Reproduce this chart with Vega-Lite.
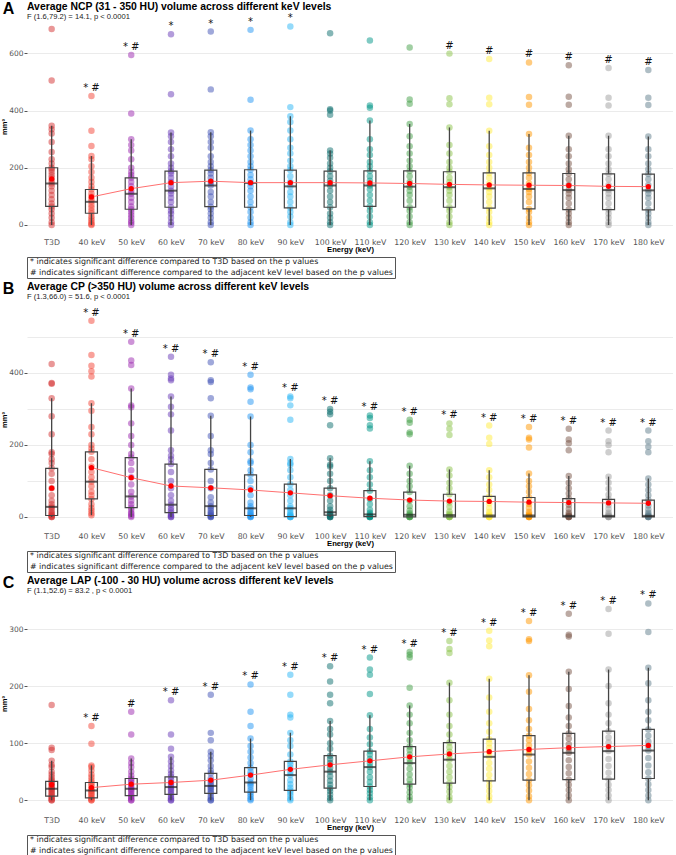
{
"$schema":"https://vega.github.io/schema/vega-lite/v6.json",
"padding":{"left":0,"top":1,"right":0,"bottom":0},
"spacing":2,
"datasets":{
"pA":[
{"c":"T3D","v":0},{"c":"T3D","v":10},{"c":"T3D","v":25},{"c":"T3D","v":40},{"c":"T3D","v":55},{"c":"T3D","v":65},{"c":"T3D","v":75},{"c":"T3D","v":90},{"c":"T3D","v":105},{"c":"T3D","v":120},{"c":"T3D","v":135},{"c":"T3D","v":145},{"c":"T3D","v":155},{"c":"T3D","v":165},{"c":"T3D","v":175},{"c":"T3D","v":185},{"c":"T3D","v":195},{"c":"T3D","v":200},{"c":"T3D","v":215},{"c":"T3D","v":230},{"c":"T3D","v":255},{"c":"T3D","v":290},{"c":"T3D","v":320},{"c":"T3D","v":335},{"c":"T3D","v":347},{"c":"T3D","v":505},{"c":"T3D","v":685},
{"c":"40","v":0},{"c":"40","v":3},{"c":"40","v":8},{"c":"40","v":15},{"c":"40","v":22},{"c":"40","v":30},{"c":"40","v":41},{"c":"40","v":50},{"c":"40","v":60},{"c":"40","v":70},{"c":"40","v":81},{"c":"40","v":90},{"c":"40","v":100},{"c":"40","v":110},{"c":"40","v":124},{"c":"40","v":135},{"c":"40","v":150},{"c":"40","v":165},{"c":"40","v":185},{"c":"40","v":205},{"c":"40","v":230},{"c":"40","v":241},{"c":"40","v":276},{"c":"40","v":329},{"c":"40","v":451},
{"c":"50","v":0},{"c":"50","v":8},{"c":"50","v":15},{"c":"50","v":25},{"c":"50","v":35},{"c":"50","v":45},{"c":"50","v":55},{"c":"50","v":65},{"c":"50","v":80},{"c":"50","v":95},{"c":"50","v":109},{"c":"50","v":120},{"c":"50","v":135},{"c":"50","v":150},{"c":"50","v":165},{"c":"50","v":175},{"c":"50","v":185},{"c":"50","v":200},{"c":"50","v":230},{"c":"50","v":260},{"c":"50","v":280},{"c":"50","v":300},{"c":"50","v":390},{"c":"50","v":594},
{"c":"60","v":0},{"c":"60","v":10},{"c":"60","v":25},{"c":"60","v":40},{"c":"60","v":50},{"c":"60","v":62},{"c":"60","v":80},{"c":"60","v":95},{"c":"60","v":110},{"c":"60","v":120},{"c":"60","v":135},{"c":"60","v":150},{"c":"60","v":165},{"c":"60","v":180},{"c":"60","v":188},{"c":"60","v":200},{"c":"60","v":215},{"c":"60","v":240},{"c":"60","v":265},{"c":"60","v":290},{"c":"60","v":310},{"c":"60","v":323},{"c":"60","v":457},{"c":"60","v":667},
{"c":"70","v":0},{"c":"70","v":10},{"c":"70","v":25},{"c":"70","v":40},{"c":"70","v":55},{"c":"70","v":64},{"c":"70","v":80},{"c":"70","v":100},{"c":"70","v":115},{"c":"70","v":138},{"c":"70","v":150},{"c":"70","v":165},{"c":"70","v":180},{"c":"70","v":192},{"c":"70","v":205},{"c":"70","v":220},{"c":"70","v":240},{"c":"70","v":270},{"c":"70","v":290},{"c":"70","v":310},{"c":"70","v":324},{"c":"70","v":474},{"c":"70","v":676},
{"c":"80","v":0},{"c":"80","v":10},{"c":"80","v":25},{"c":"80","v":45},{"c":"80","v":62},{"c":"80","v":80},{"c":"80","v":100},{"c":"80","v":120},{"c":"80","v":135},{"c":"80","v":147},{"c":"80","v":160},{"c":"80","v":175},{"c":"80","v":193},{"c":"80","v":205},{"c":"80","v":220},{"c":"80","v":240},{"c":"80","v":260},{"c":"80","v":280},{"c":"80","v":300},{"c":"80","v":330},{"c":"80","v":438},{"c":"80","v":682},
{"c":"90","v":0},{"c":"90","v":10},{"c":"90","v":30},{"c":"90","v":45},{"c":"90","v":60},{"c":"90","v":80},{"c":"90","v":100},{"c":"90","v":115},{"c":"90","v":135},{"c":"90","v":150},{"c":"90","v":170},{"c":"90","v":192},{"c":"90","v":205},{"c":"90","v":225},{"c":"90","v":250},{"c":"90","v":270},{"c":"90","v":300},{"c":"90","v":330},{"c":"90","v":360},{"c":"90","v":380},{"c":"90","v":412},{"c":"90","v":694},
{"c":"100","v":0},{"c":"100","v":10},{"c":"100","v":25},{"c":"100","v":40},{"c":"100","v":62},{"c":"100","v":80},{"c":"100","v":100},{"c":"100","v":120},{"c":"100","v":138},{"c":"100","v":155},{"c":"100","v":170},{"c":"100","v":188},{"c":"100","v":200},{"c":"100","v":215},{"c":"100","v":235},{"c":"100","v":250},{"c":"100","v":260},{"c":"100","v":385},{"c":"100","v":400},{"c":"100","v":405},{"c":"100","v":670},
{"c":"110","v":0},{"c":"110","v":10},{"c":"110","v":30},{"c":"110","v":50},{"c":"110","v":65},{"c":"110","v":85},{"c":"110","v":105},{"c":"110","v":125},{"c":"110","v":138},{"c":"110","v":155},{"c":"110","v":170},{"c":"110","v":189},{"c":"110","v":205},{"c":"110","v":220},{"c":"110","v":245},{"c":"110","v":265},{"c":"110","v":300},{"c":"110","v":365},{"c":"110","v":410},{"c":"110","v":418},{"c":"110","v":645},
{"c":"120","v":0},{"c":"120","v":10},{"c":"120","v":30},{"c":"120","v":50},{"c":"120","v":62},{"c":"120","v":85},{"c":"120","v":105},{"c":"120","v":120},{"c":"120","v":134},{"c":"120","v":150},{"c":"120","v":170},{"c":"120","v":189},{"c":"120","v":205},{"c":"120","v":225},{"c":"120","v":250},{"c":"120","v":275},{"c":"120","v":310},{"c":"120","v":353},{"c":"120","v":424},{"c":"120","v":439},{"c":"120","v":620},
{"c":"130","v":0},{"c":"130","v":10},{"c":"130","v":30},{"c":"130","v":50},{"c":"130","v":62},{"c":"130","v":85},{"c":"130","v":105},{"c":"130","v":120},{"c":"130","v":132},{"c":"130","v":150},{"c":"130","v":165},{"c":"130","v":186},{"c":"130","v":200},{"c":"130","v":220},{"c":"130","v":250},{"c":"130","v":280},{"c":"130","v":341},{"c":"130","v":422},{"c":"130","v":443},{"c":"130","v":599},
{"c":"140","v":0},{"c":"140","v":10},{"c":"140","v":25},{"c":"140","v":45},{"c":"140","v":59},{"c":"140","v":80},{"c":"140","v":100},{"c":"140","v":115},{"c":"140","v":128},{"c":"140","v":145},{"c":"140","v":165},{"c":"140","v":182},{"c":"140","v":200},{"c":"140","v":220},{"c":"140","v":245},{"c":"140","v":275},{"c":"140","v":329},{"c":"140","v":422},{"c":"140","v":445},{"c":"140","v":580},
{"c":"150","v":0},{"c":"150","v":10},{"c":"150","v":25},{"c":"150","v":45},{"c":"150","v":56},{"c":"150","v":80},{"c":"150","v":100},{"c":"150","v":115},{"c":"150","v":126},{"c":"150","v":145},{"c":"150","v":165},{"c":"150","v":182},{"c":"150","v":200},{"c":"150","v":220},{"c":"150","v":245},{"c":"150","v":270},{"c":"150","v":318},{"c":"150","v":420},{"c":"150","v":447},{"c":"150","v":568},
{"c":"160","v":0},{"c":"160","v":10},{"c":"160","v":25},{"c":"160","v":40},{"c":"160","v":54},{"c":"160","v":75},{"c":"160","v":95},{"c":"160","v":110},{"c":"160","v":122},{"c":"160","v":140},{"c":"160","v":160},{"c":"160","v":180},{"c":"160","v":195},{"c":"160","v":215},{"c":"160","v":240},{"c":"160","v":265},{"c":"160","v":312},{"c":"160","v":420},{"c":"160","v":448},{"c":"160","v":558},
{"c":"170","v":0},{"c":"170","v":10},{"c":"170","v":25},{"c":"170","v":40},{"c":"170","v":54},{"c":"170","v":75},{"c":"170","v":95},{"c":"170","v":110},{"c":"170","v":122},{"c":"170","v":140},{"c":"170","v":160},{"c":"170","v":179},{"c":"170","v":195},{"c":"170","v":215},{"c":"170","v":240},{"c":"170","v":265},{"c":"170","v":312},{"c":"170","v":418},{"c":"170","v":445},{"c":"170","v":549},
{"c":"180","v":0},{"c":"180","v":10},{"c":"180","v":25},{"c":"180","v":40},{"c":"180","v":53},{"c":"180","v":75},{"c":"180","v":95},{"c":"180","v":110},{"c":"180","v":121},{"c":"180","v":140},{"c":"180","v":160},{"c":"180","v":178},{"c":"180","v":195},{"c":"180","v":215},{"c":"180","v":240},{"c":"180","v":265},{"c":"180","v":309},{"c":"180","v":419},{"c":"180","v":445},{"c":"180","v":542}
],
"pB":[
{"c":"T3D","v":0},{"c":"T3D","v":0},{"c":"T3D","v":2},{"c":"T3D","v":5},{"c":"T3D","v":8},{"c":"T3D","v":12},{"c":"T3D","v":18},{"c":"T3D","v":25},{"c":"T3D","v":28},{"c":"T3D","v":35},{"c":"T3D","v":45},{"c":"T3D","v":60},{"c":"T3D","v":80},{"c":"T3D","v":100},{"c":"T3D","v":120},{"c":"T3D","v":135},{"c":"T3D","v":150},{"c":"T3D","v":160},{"c":"T3D","v":175},{"c":"T3D","v":180},{"c":"T3D","v":230},{"c":"T3D","v":280},{"c":"T3D","v":330},{"c":"T3D","v":370},{"c":"T3D","v":372},{"c":"T3D","v":425},
{"c":"40","v":5},{"c":"40","v":10},{"c":"40","v":18},{"c":"40","v":25},{"c":"40","v":35},{"c":"40","v":50},{"c":"40","v":60},{"c":"40","v":70},{"c":"40","v":85},{"c":"40","v":98},{"c":"40","v":110},{"c":"40","v":125},{"c":"40","v":140},{"c":"40","v":160},{"c":"40","v":181},{"c":"40","v":190},{"c":"40","v":200},{"c":"40","v":230},{"c":"40","v":250},{"c":"40","v":295},{"c":"40","v":316},{"c":"40","v":390},{"c":"40","v":405},{"c":"40","v":420},{"c":"40","v":450},{"c":"40","v":545},
{"c":"50","v":0},{"c":"50","v":3},{"c":"50","v":8},{"c":"50","v":12},{"c":"50","v":20},{"c":"50","v":26},{"c":"50","v":35},{"c":"50","v":45},{"c":"50","v":57},{"c":"50","v":70},{"c":"50","v":90},{"c":"50","v":110},{"c":"50","v":130},{"c":"50","v":150},{"c":"50","v":165},{"c":"50","v":175},{"c":"50","v":200},{"c":"50","v":225},{"c":"50","v":260},{"c":"50","v":305},{"c":"50","v":310},{"c":"50","v":357},{"c":"50","v":422},{"c":"50","v":435},{"c":"50","v":487},
{"c":"60","v":0},{"c":"60","v":0},{"c":"60","v":3},{"c":"60","v":6},{"c":"60","v":12},{"c":"60","v":18},{"c":"60","v":25},{"c":"60","v":34},{"c":"60","v":45},{"c":"60","v":60},{"c":"60","v":80},{"c":"60","v":100},{"c":"60","v":125},{"c":"60","v":147},{"c":"60","v":160},{"c":"60","v":170},{"c":"60","v":185},{"c":"60","v":240},{"c":"60","v":285},{"c":"60","v":306},{"c":"60","v":335},{"c":"60","v":380},{"c":"60","v":385},{"c":"60","v":395},{"c":"60","v":445},
{"c":"70","v":0},{"c":"70","v":0},{"c":"70","v":2},{"c":"70","v":4},{"c":"70","v":8},{"c":"70","v":12},{"c":"70","v":18},{"c":"70","v":25},{"c":"70","v":30},{"c":"70","v":40},{"c":"70","v":55},{"c":"70","v":80},{"c":"70","v":100},{"c":"70","v":132},{"c":"70","v":150},{"c":"70","v":175},{"c":"70","v":185},{"c":"70","v":225},{"c":"70","v":281},{"c":"70","v":330},{"c":"70","v":375},{"c":"70","v":380},{"c":"70","v":430},
{"c":"80","v":0},{"c":"80","v":0},{"c":"80","v":2},{"c":"80","v":4},{"c":"80","v":8},{"c":"80","v":12},{"c":"80","v":18},{"c":"80","v":24},{"c":"80","v":30},{"c":"80","v":40},{"c":"80","v":60},{"c":"80","v":80},{"c":"80","v":100},{"c":"80","v":117},{"c":"80","v":130},{"c":"80","v":150},{"c":"80","v":155},{"c":"80","v":180},{"c":"80","v":200},{"c":"80","v":279},{"c":"80","v":320},{"c":"80","v":355},{"c":"80","v":360},{"c":"80","v":395},
{"c":"90","v":0},{"c":"90","v":0},{"c":"90","v":0},{"c":"90","v":1},{"c":"90","v":3},{"c":"90","v":6},{"c":"90","v":10},{"c":"90","v":18},{"c":"90","v":24},{"c":"90","v":30},{"c":"90","v":45},{"c":"90","v":60},{"c":"90","v":75},{"c":"90","v":91},{"c":"90","v":110},{"c":"90","v":130},{"c":"90","v":145},{"c":"90","v":150},{"c":"90","v":161},{"c":"90","v":270},{"c":"90","v":310},{"c":"90","v":330},{"c":"90","v":335},
{"c":"100","v":0},{"c":"100","v":0},{"c":"100","v":0},{"c":"100","v":2},{"c":"100","v":5},{"c":"100","v":8},{"c":"100","v":13},{"c":"100","v":20},{"c":"100","v":30},{"c":"100","v":45},{"c":"100","v":60},{"c":"100","v":80},{"c":"100","v":100},{"c":"100","v":120},{"c":"100","v":140},{"c":"100","v":145},{"c":"100","v":163},{"c":"100","v":255},{"c":"100","v":285},{"c":"100","v":292},{"c":"100","v":300},
{"c":"110","v":0},{"c":"110","v":0},{"c":"110","v":0},{"c":"110","v":1},{"c":"110","v":3},{"c":"110","v":7},{"c":"110","v":12},{"c":"110","v":20},{"c":"110","v":35},{"c":"110","v":50},{"c":"110","v":73},{"c":"110","v":90},{"c":"110","v":110},{"c":"110","v":130},{"c":"110","v":155},{"c":"110","v":246},{"c":"110","v":255},{"c":"110","v":275},{"c":"110","v":282},
{"c":"120","v":0},{"c":"120","v":0},{"c":"120","v":0},{"c":"120","v":1},{"c":"120","v":3},{"c":"120","v":6},{"c":"120","v":10},{"c":"120","v":18},{"c":"120","v":30},{"c":"120","v":45},{"c":"120","v":69},{"c":"120","v":85},{"c":"120","v":100},{"c":"120","v":120},{"c":"120","v":142},{"c":"120","v":230},{"c":"120","v":235},{"c":"120","v":262},{"c":"120","v":270},
{"c":"130","v":0},{"c":"130","v":0},{"c":"130","v":0},{"c":"130","v":1},{"c":"130","v":3},{"c":"130","v":5},{"c":"130","v":9},{"c":"130","v":15},{"c":"130","v":28},{"c":"130","v":40},{"c":"130","v":63},{"c":"130","v":80},{"c":"130","v":95},{"c":"130","v":115},{"c":"130","v":132},{"c":"130","v":228},{"c":"130","v":245},{"c":"130","v":260},
{"c":"140","v":0},{"c":"140","v":0},{"c":"140","v":0},{"c":"140","v":1},{"c":"140","v":2},{"c":"140","v":4},{"c":"140","v":8},{"c":"140","v":14},{"c":"140","v":25},{"c":"140","v":38},{"c":"140","v":57},{"c":"140","v":75},{"c":"140","v":90},{"c":"140","v":110},{"c":"140","v":130},{"c":"140","v":203},{"c":"140","v":220},{"c":"140","v":254},
{"c":"150","v":0},{"c":"150","v":0},{"c":"150","v":0},{"c":"150","v":1},{"c":"150","v":2},{"c":"150","v":4},{"c":"150","v":8},{"c":"150","v":14},{"c":"150","v":25},{"c":"150","v":36},{"c":"150","v":54},{"c":"150","v":70},{"c":"150","v":85},{"c":"150","v":100},{"c":"150","v":121},{"c":"150","v":193},{"c":"150","v":215},{"c":"150","v":220},{"c":"150","v":250},
{"c":"160","v":0},{"c":"160","v":0},{"c":"160","v":0},{"c":"160","v":1},{"c":"160","v":2},{"c":"160","v":3},{"c":"160","v":7},{"c":"160","v":12},{"c":"160","v":22},{"c":"160","v":34},{"c":"160","v":51},{"c":"160","v":65},{"c":"160","v":80},{"c":"160","v":95},{"c":"160","v":114},{"c":"160","v":185},{"c":"160","v":205},{"c":"160","v":215},{"c":"160","v":245},
{"c":"170","v":0},{"c":"170","v":0},{"c":"170","v":0},{"c":"170","v":1},{"c":"170","v":2},{"c":"170","v":3},{"c":"170","v":7},{"c":"170","v":12},{"c":"170","v":22},{"c":"170","v":33},{"c":"170","v":49},{"c":"170","v":62},{"c":"170","v":78},{"c":"170","v":95},{"c":"170","v":112},{"c":"170","v":180},{"c":"170","v":200},{"c":"170","v":210},{"c":"170","v":240},
{"c":"180","v":0},{"c":"180","v":0},{"c":"180","v":0},{"c":"180","v":1},{"c":"180","v":2},{"c":"180","v":3},{"c":"180","v":7},{"c":"180","v":12},{"c":"180","v":21},{"c":"180","v":32},{"c":"180","v":47},{"c":"180","v":60},{"c":"180","v":75},{"c":"180","v":90},{"c":"180","v":107},{"c":"180","v":180},{"c":"180","v":195},{"c":"180","v":210},{"c":"180","v":240}
],
"pC":[
{"c":"T3D","v":0},{"c":"T3D","v":0},{"c":"T3D","v":2},{"c":"T3D","v":5},{"c":"T3D","v":7},{"c":"T3D","v":10},{"c":"T3D","v":12},{"c":"T3D","v":15},{"c":"T3D","v":18},{"c":"T3D","v":20},{"c":"T3D","v":22},{"c":"T3D","v":25},{"c":"T3D","v":28},{"c":"T3D","v":30},{"c":"T3D","v":33},{"c":"T3D","v":36},{"c":"T3D","v":40},{"c":"T3D","v":45},{"c":"T3D","v":50},{"c":"T3D","v":58},{"c":"T3D","v":62},{"c":"T3D","v":69},{"c":"T3D","v":88},{"c":"T3D","v":92},{"c":"T3D","v":167},
{"c":"40","v":0},{"c":"40","v":0},{"c":"40","v":2},{"c":"40","v":4},{"c":"40","v":7},{"c":"40","v":10},{"c":"40","v":12},{"c":"40","v":15},{"c":"40","v":17},{"c":"40","v":20},{"c":"40","v":24},{"c":"40","v":28},{"c":"40","v":31},{"c":"40","v":35},{"c":"40","v":40},{"c":"40","v":45},{"c":"40","v":52},{"c":"40","v":58},{"c":"40","v":61},{"c":"40","v":99},{"c":"40","v":130},
{"c":"50","v":0},{"c":"50","v":0},{"c":"50","v":3},{"c":"50","v":6},{"c":"50","v":8},{"c":"50","v":11},{"c":"50","v":15},{"c":"50","v":18},{"c":"50","v":20},{"c":"50","v":23},{"c":"50","v":27},{"c":"50","v":31},{"c":"50","v":35},{"c":"50","v":38},{"c":"50","v":43},{"c":"50","v":50},{"c":"50","v":58},{"c":"50","v":65},{"c":"50","v":73},{"c":"50","v":115},{"c":"50","v":155},
{"c":"60","v":0},{"c":"60","v":0},{"c":"60","v":3},{"c":"60","v":6},{"c":"60","v":10},{"c":"60","v":13},{"c":"60","v":17},{"c":"60","v":20},{"c":"60","v":23},{"c":"60","v":27},{"c":"60","v":31},{"c":"60","v":36},{"c":"60","v":41},{"c":"60","v":46},{"c":"60","v":52},{"c":"60","v":60},{"c":"60","v":68},{"c":"60","v":76},{"c":"60","v":90},{"c":"60","v":115},{"c":"60","v":175},
{"c":"70","v":0},{"c":"70","v":0},{"c":"70","v":3},{"c":"70","v":7},{"c":"70","v":12},{"c":"70","v":15},{"c":"70","v":19},{"c":"70","v":22},{"c":"70","v":25},{"c":"70","v":29},{"c":"70","v":33},{"c":"70","v":38},{"c":"70","v":47},{"c":"70","v":52},{"c":"70","v":60},{"c":"70","v":70},{"c":"70","v":78},{"c":"70","v":85},{"c":"70","v":105},{"c":"70","v":118},{"c":"70","v":185},
{"c":"80","v":0},{"c":"80","v":2},{"c":"80","v":6},{"c":"80","v":10},{"c":"80","v":14},{"c":"80","v":18},{"c":"80","v":24},{"c":"80","v":28},{"c":"80","v":31},{"c":"80","v":38},{"c":"80","v":45},{"c":"80","v":50},{"c":"80","v":57},{"c":"80","v":65},{"c":"80","v":75},{"c":"80","v":85},{"c":"80","v":95},{"c":"80","v":108},{"c":"80","v":130},{"c":"80","v":155},{"c":"80","v":203},
{"c":"90","v":0},{"c":"90","v":3},{"c":"90","v":8},{"c":"90","v":13},{"c":"90","v":17},{"c":"90","v":22},{"c":"90","v":28},{"c":"90","v":35},{"c":"90","v":44},{"c":"90","v":50},{"c":"90","v":57},{"c":"90","v":63},{"c":"90","v":68},{"c":"90","v":80},{"c":"90","v":95},{"c":"90","v":105},{"c":"90","v":118},{"c":"90","v":145},{"c":"90","v":150},{"c":"90","v":185},{"c":"90","v":220},
{"c":"100","v":0},{"c":"100","v":4},{"c":"100","v":10},{"c":"100","v":16},{"c":"100","v":21},{"c":"100","v":27},{"c":"100","v":34},{"c":"100","v":42},{"c":"100","v":50},{"c":"100","v":57},{"c":"100","v":65},{"c":"100","v":72},{"c":"100","v":78},{"c":"100","v":90},{"c":"100","v":100},{"c":"100","v":115},{"c":"100","v":125},{"c":"100","v":139},{"c":"100","v":170},{"c":"100","v":185},{"c":"100","v":208},{"c":"100","v":235},
{"c":"110","v":0},{"c":"110","v":5},{"c":"110","v":12},{"c":"110","v":18},{"c":"110","v":24},{"c":"110","v":32},{"c":"110","v":40},{"c":"110","v":50},{"c":"110","v":58},{"c":"110","v":65},{"c":"110","v":72},{"c":"110","v":80},{"c":"110","v":86},{"c":"110","v":98},{"c":"110","v":110},{"c":"110","v":125},{"c":"110","v":149},{"c":"110","v":186},{"c":"110","v":220},{"c":"110","v":229},{"c":"110","v":250},
{"c":"120","v":0},{"c":"120","v":6},{"c":"120","v":14},{"c":"120","v":22},{"c":"120","v":28},{"c":"120","v":36},{"c":"120","v":45},{"c":"120","v":55},{"c":"120","v":65},{"c":"120","v":72},{"c":"120","v":80},{"c":"120","v":88},{"c":"120","v":94},{"c":"120","v":105},{"c":"120","v":118},{"c":"120","v":135},{"c":"120","v":150},{"c":"120","v":166},{"c":"120","v":197},{"c":"120","v":250},{"c":"120","v":255},{"c":"120","v":260},
{"c":"130","v":0},{"c":"130","v":6},{"c":"130","v":15},{"c":"130","v":23},{"c":"130","v":30},{"c":"130","v":40},{"c":"130","v":50},{"c":"130","v":60},{"c":"130","v":71},{"c":"130","v":78},{"c":"130","v":85},{"c":"130","v":93},{"c":"130","v":101},{"c":"130","v":115},{"c":"130","v":130},{"c":"130","v":150},{"c":"130","v":175},{"c":"130","v":206},{"c":"130","v":258},{"c":"130","v":265},{"c":"130","v":279},
{"c":"140","v":0},{"c":"140","v":7},{"c":"140","v":16},{"c":"140","v":25},{"c":"140","v":34},{"c":"140","v":44},{"c":"140","v":55},{"c":"140","v":65},{"c":"140","v":76},{"c":"140","v":84},{"c":"140","v":92},{"c":"140","v":100},{"c":"140","v":107},{"c":"140","v":120},{"c":"140","v":135},{"c":"140","v":155},{"c":"140","v":180},{"c":"140","v":213},{"c":"140","v":270},{"c":"140","v":280},{"c":"140","v":297},
{"c":"150","v":0},{"c":"150","v":7},{"c":"150","v":17},{"c":"150","v":26},{"c":"150","v":35},{"c":"150","v":46},{"c":"150","v":57},{"c":"150","v":68},{"c":"150","v":80},{"c":"150","v":88},{"c":"150","v":96},{"c":"150","v":105},{"c":"150","v":113},{"c":"150","v":125},{"c":"150","v":140},{"c":"150","v":160},{"c":"150","v":190},{"c":"150","v":219},{"c":"150","v":279},{"c":"150","v":282},{"c":"150","v":314},
{"c":"160","v":0},{"c":"160","v":8},{"c":"160","v":18},{"c":"160","v":27},{"c":"160","v":36},{"c":"160","v":47},{"c":"160","v":58},{"c":"160","v":70},{"c":"160","v":83},{"c":"160","v":90},{"c":"160","v":98},{"c":"160","v":108},{"c":"160","v":117},{"c":"160","v":130},{"c":"160","v":145},{"c":"160","v":165},{"c":"160","v":195},{"c":"160","v":225},{"c":"160","v":287},{"c":"160","v":290},{"c":"160","v":327},
{"c":"170","v":0},{"c":"170","v":8},{"c":"170","v":18},{"c":"170","v":27},{"c":"170","v":37},{"c":"170","v":48},{"c":"170","v":60},{"c":"170","v":72},{"c":"170","v":86},{"c":"170","v":93},{"c":"170","v":101},{"c":"170","v":110},{"c":"170","v":121},{"c":"170","v":135},{"c":"170","v":150},{"c":"170","v":170},{"c":"170","v":200},{"c":"170","v":229},{"c":"170","v":292},{"c":"170","v":335},
{"c":"180","v":0},{"c":"180","v":8},{"c":"180","v":18},{"c":"180","v":28},{"c":"180","v":38},{"c":"180","v":49},{"c":"180","v":61},{"c":"180","v":74},{"c":"180","v":87},{"c":"180","v":95},{"c":"180","v":103},{"c":"180","v":113},{"c":"180","v":124},{"c":"180","v":140},{"c":"180","v":155},{"c":"180","v":175},{"c":"180","v":205},{"c":"180","v":232},{"c":"180","v":295},{"c":"180","v":345}
],
"bA":[
{"c":"T3D","lo":0,"q1":65,"med":145,"q3":200,"hi":347,"mean":161,"ann":"","top":685},
{"c":"40","lo":0,"q1":41,"med":81,"q3":124,"hi":241,"mean":98,"ann":"* #","top":451},
{"c":"50","lo":0,"q1":55,"med":109,"q3":165,"hi":300,"mean":127,"ann":"* #","top":594},
{"c":"60","lo":0,"q1":62,"med":120,"q3":188,"hi":323,"mean":148,"ann":"*","top":667},
{"c":"70","lo":0,"q1":64,"med":138,"q3":192,"hi":324,"mean":153,"ann":"*","top":676},
{"c":"80","lo":0,"q1":62,"med":147,"q3":193,"hi":330,"mean":148,"ann":"*","top":682},
{"c":"90","lo":0,"q1":60,"med":135,"q3":192,"hi":380,"mean":148,"ann":"*","top":694},
{"c":"100","lo":0,"q1":62,"med":138,"q3":188,"hi":260,"mean":148,"ann":"","top":670},
{"c":"110","lo":0,"q1":65,"med":138,"q3":189,"hi":365,"mean":147,"ann":"","top":645},
{"c":"120","lo":0,"q1":62,"med":134,"q3":189,"hi":353,"mean":145,"ann":"","top":620},
{"c":"130","lo":0,"q1":62,"med":132,"q3":186,"hi":341,"mean":142,"ann":"#","top":599},
{"c":"140","lo":0,"q1":59,"med":128,"q3":182,"hi":329,"mean":140,"ann":"#","top":580},
{"c":"150","lo":0,"q1":56,"med":126,"q3":182,"hi":318,"mean":139,"ann":"#","top":568},
{"c":"160","lo":0,"q1":54,"med":122,"q3":180,"hi":312,"mean":138,"ann":"#","top":558},
{"c":"170","lo":0,"q1":54,"med":122,"q3":179,"hi":312,"mean":135,"ann":"#","top":549},
{"c":"180","lo":0,"q1":53,"med":121,"q3":178,"hi":309,"mean":134,"ann":"#","top":542}
],
"bB":[
{"c":"T3D","lo":0,"q1":4,"med":28,"q3":135,"hi":330,"mean":80,"ann":"","top":425},
{"c":"40","lo":5,"q1":50,"med":98,"q3":181,"hi":316,"mean":137,"ann":"* #","top":545},
{"c":"50","lo":0,"q1":26,"med":57,"q3":165,"hi":357,"mean":109,"ann":"* #","top":487},
{"c":"60","lo":0,"q1":12,"med":34,"q3":147,"hi":335,"mean":86,"ann":"* #","top":445},
{"c":"70","lo":0,"q1":4,"med":30,"q3":132,"hi":281,"mean":81,"ann":"* #","top":430},
{"c":"80","lo":0,"q1":4,"med":24,"q3":117,"hi":279,"mean":75,"ann":"* #","top":395},
{"c":"90","lo":0,"q1":1,"med":24,"q3":91,"hi":161,"mean":67,"ann":"* #","top":335},
{"c":"100","lo":0,"q1":5,"med":13,"q3":80,"hi":163,"mean":59,"ann":"* #","top":300},
{"c":"110","lo":0,"q1":1,"med":7,"q3":73,"hi":155,"mean":52,"ann":"* #","top":282},
{"c":"120","lo":0,"q1":0,"med":6,"q3":69,"hi":142,"mean":47,"ann":"* #","top":270},
{"c":"130","lo":0,"q1":0,"med":5,"q3":63,"hi":132,"mean":44,"ann":"* #","top":260},
{"c":"140","lo":0,"q1":0,"med":4,"q3":57,"hi":130,"mean":43,"ann":"* #","top":254},
{"c":"150","lo":0,"q1":0,"med":4,"q3":54,"hi":121,"mean":41,"ann":"* #","top":250},
{"c":"160","lo":0,"q1":0,"med":3,"q3":51,"hi":114,"mean":40,"ann":"* #","top":245},
{"c":"170","lo":0,"q1":0,"med":3,"q3":49,"hi":112,"mean":39,"ann":"* #","top":240},
{"c":"180","lo":0,"q1":0,"med":3,"q3":47,"hi":107,"mean":38,"ann":"* #","top":240}
],
"bC":[
{"c":"T3D","lo":0,"q1":7,"med":20,"q3":33,"hi":69,"mean":27,"ann":"","top":167},
{"c":"40","lo":0,"q1":4,"med":17,"q3":31,"hi":61,"mean":22,"ann":"* #","top":130},
{"c":"50","lo":0,"q1":8,"med":20,"q3":38,"hi":73,"mean":28,"ann":"#","top":155},
{"c":"60","lo":0,"q1":10,"med":23,"q3":41,"hi":76,"mean":31,"ann":"* #","top":175},
{"c":"70","lo":0,"q1":12,"med":25,"q3":47,"hi":85,"mean":35,"ann":"* #","top":185},
{"c":"80","lo":0,"q1":14,"med":31,"q3":57,"hi":108,"mean":44,"ann":"* #","top":203},
{"c":"90","lo":0,"q1":17,"med":44,"q3":68,"hi":118,"mean":54,"ann":"* #","top":220},
{"c":"100","lo":0,"q1":21,"med":50,"q3":78,"hi":139,"mean":62,"ann":"* #","top":235},
{"c":"110","lo":0,"q1":24,"med":58,"q3":86,"hi":149,"mean":69,"ann":"* #","top":250},
{"c":"120","lo":0,"q1":28,"med":65,"q3":94,"hi":166,"mean":76,"ann":"* #","top":260},
{"c":"130","lo":0,"q1":30,"med":71,"q3":101,"hi":206,"mean":81,"ann":"* #","top":279},
{"c":"140","lo":0,"q1":34,"med":76,"q3":107,"hi":213,"mean":85,"ann":"* #","top":297},
{"c":"150","lo":0,"q1":35,"med":80,"q3":113,"hi":219,"mean":89,"ann":"* #","top":314},
{"c":"160","lo":0,"q1":36,"med":83,"q3":117,"hi":225,"mean":92,"ann":"* #","top":327},
{"c":"170","lo":0,"q1":37,"med":86,"q3":121,"hi":229,"mean":94,"ann":"* #","top":335},
{"c":"180","lo":0,"q1":38,"med":87,"q3":124,"hi":232,"mean":96,"ann":"* #","top":345}
],
"notes":[
{"n":1,"t":"* indicates significant difference compared to T3D based on the p values"},
{"n":2,"t":"# indicates significant difference compared to the adjacent keV level based on the p values"}
]
},
"vconcat":[
{
"width":646,"height":217,
"title":{"text":"Average NCP (31 - 350 HU) volume across different keV levels","subtitle":"F (1.6,79.2) = 14.1, p < 0.0001","offset":-20},
"layer":[
{"data":{"name":"pA"},"mark":{"type":"circle","size":42,"opacity":0.5},
"encoding":{"x":{"field":"c","type":"nominal","scale":{"type":"point","domain":["T3D","40","50","60","70","80","90","100","110","120","130","140","150","160","170","180"],"padding":0.62},"axis":{"title":"Energy (keV)","labelExpr":"datum.value == 'T3D' ? 'T3D' : datum.value + ' keV'"}},
"y":{"field":"v","type":"quantitative","scale":{"domain":[-35,723.5],"nice":false,"zero":false},"axis":{"title":"mm³","values":[0,100,200,300,400,500,600,700],"labelExpr":"datum.value % 200 == 0 ? datum.label : ''","tickOpacity":{"condition":{"test":"datum.value % 200 == 0","value":1},"value":0}}},
"color":{"field":"c","type":"nominal","legend":null,"scale":{"domain":["T3D","40","50","60","70","80","90","100","110","120","130","140","150","160","170","180"],"range":["#D32F2F","#F44336","#9C27B0","#673AB7","#3F51B5","#2196F3","#29B6F6","#0B6E6E","#009688","#43A047","#8BC34A","#FFEB3B","#FF9800","#795548","#9E9E9E","#607D8B"]}}}},
{"data":{"name":"bA"},"mark":{"type":"rule","color":"#444","strokeWidth":1.3},"encoding":{"x":{"field":"c","type":"nominal"},"y":{"field":"lo","type":"quantitative"},"y2":{"field":"q1"}}},
{"data":{"name":"bA"},"mark":{"type":"rule","color":"#444","strokeWidth":1.3},"encoding":{"x":{"field":"c","type":"nominal"},"y":{"field":"q3","type":"quantitative"},"y2":{"field":"hi"}}},
{"data":{"name":"bA"},"mark":{"type":"bar","size":12,"fillOpacity":0,"stroke":"#444","strokeWidth":1.2},"encoding":{"x":{"field":"c","type":"nominal"},"y":{"field":"q1","type":"quantitative"},"y2":{"field":"q3"}}},
{"data":{"name":"bA"},"mark":{"type":"tick","size":12,"thickness":2,"color":"#222"},"encoding":{"x":{"field":"c","type":"nominal"},"y":{"field":"med","type":"quantitative"}}},
{"data":{"name":"bA"},"transform":[{"filter":"datum.c != 'T3D'"}],"mark":{"type":"line","color":"#FF7070","strokeWidth":1},"encoding":{"x":{"field":"c","type":"nominal"},"y":{"field":"mean","type":"quantitative"},"order":{"value":null}}},
{"data":{"name":"bA"},"mark":{"type":"circle","size":28,"color":"#FF0000","opacity":1},"encoding":{"x":{"field":"c","type":"nominal"},"y":{"field":"mean","type":"quantitative"}}},
{"data":{"name":"bA"},"mark":{"type":"text","dy":-8,"fontSize":10,"color":"#111"},"encoding":{"x":{"field":"c","type":"nominal"},"y":{"field":"top","type":"quantitative"},"text":{"field":"ann"}}},
{"data":{"values":[{"lab":"A"}]},"mark":{"type":"text","align":"left","baseline":"top","fontSize":16,"fontWeight":"bold","font":"Liberation Sans","dx":-49,"dy":-17},"encoding":{"x":{"datum":"T3D"},"y":{"datum":723.5},"text":{"field":"lab"}}}
]
},
{"width":368,"height":21,"view":{"stroke":"#555","strokeWidth":1},"data":{"name":"notes"},"mark":{"type":"text","align":"left","baseline":"middle","x":3,"fontSize":7.9,"font":"DejaVu Sans","color":"#222"},"encoding":{"y":{"field":"n","type":"ordinal","axis":null},"text":{"field":"t"}}},
{
"width":646,"height":219,
"title":{"text":"Average CP (>350 HU) volume across different keV levels","subtitle":"F (1.3,66.0) = 51.6, p < 0.0001","offset":-20},
"layer":[
{"data":{"name":"pB"},"mark":{"type":"circle","size":42,"opacity":0.5},
"encoding":{"x":{"field":"c","type":"nominal","scale":{"type":"point","domain":["T3D","40","50","60","70","80","90","100","110","120","130","140","150","160","170","180"],"padding":0.62},"axis":{"title":"Energy (keV)","labelExpr":"datum.value == 'T3D' ? 'T3D' : datum.value + ' keV'"}},
"y":{"field":"v","type":"quantitative","scale":{"domain":[-33.5,575],"nice":false,"zero":false},"axis":{"title":"mm³","values":[0,100,200,300,400,500],"labelExpr":"datum.value % 200 == 0 ? datum.label : ''","tickOpacity":{"condition":{"test":"datum.value % 200 == 0","value":1},"value":0}}},
"color":{"field":"c","type":"nominal","legend":null,"scale":{"domain":["T3D","40","50","60","70","80","90","100","110","120","130","140","150","160","170","180"],"range":["#D32F2F","#F44336","#9C27B0","#673AB7","#3F51B5","#2196F3","#29B6F6","#0B6E6E","#009688","#43A047","#8BC34A","#FFEB3B","#FF9800","#795548","#9E9E9E","#607D8B"]}}}},
{"data":{"name":"bB"},"mark":{"type":"rule","color":"#444","strokeWidth":1.3},"encoding":{"x":{"field":"c","type":"nominal"},"y":{"field":"lo","type":"quantitative"},"y2":{"field":"q1"}}},
{"data":{"name":"bB"},"mark":{"type":"rule","color":"#444","strokeWidth":1.3},"encoding":{"x":{"field":"c","type":"nominal"},"y":{"field":"q3","type":"quantitative"},"y2":{"field":"hi"}}},
{"data":{"name":"bB"},"mark":{"type":"bar","size":12,"fillOpacity":0,"stroke":"#444","strokeWidth":1.2},"encoding":{"x":{"field":"c","type":"nominal"},"y":{"field":"q1","type":"quantitative"},"y2":{"field":"q3"}}},
{"data":{"name":"bB"},"mark":{"type":"tick","size":12,"thickness":2,"color":"#222"},"encoding":{"x":{"field":"c","type":"nominal"},"y":{"field":"med","type":"quantitative"}}},
{"data":{"name":"bB"},"transform":[{"filter":"datum.c != 'T3D'"}],"mark":{"type":"line","color":"#FF7070","strokeWidth":1},"encoding":{"x":{"field":"c","type":"nominal"},"y":{"field":"mean","type":"quantitative"},"order":{"value":null}}},
{"data":{"name":"bB"},"mark":{"type":"circle","size":28,"color":"#FF0000","opacity":1},"encoding":{"x":{"field":"c","type":"nominal"},"y":{"field":"mean","type":"quantitative"}}},
{"data":{"name":"bB"},"mark":{"type":"text","dy":-8,"fontSize":10,"color":"#111"},"encoding":{"x":{"field":"c","type":"nominal"},"y":{"field":"top","type":"quantitative"},"text":{"field":"ann"}}},
{"data":{"values":[{"lab":"B"}]},"mark":{"type":"text","align":"left","baseline":"top","fontSize":16,"fontWeight":"bold","font":"Liberation Sans","dx":-49,"dy":-29},"encoding":{"x":{"datum":"T3D"},"y":{"datum":575},"text":{"field":"lab"}}}
]
},
{"width":368,"height":21,"view":{"stroke":"#555","strokeWidth":1},"data":{"name":"notes"},"mark":{"type":"text","align":"left","baseline":"middle","x":3,"fontSize":7.9,"font":"DejaVu Sans","color":"#222"},"encoding":{"y":{"field":"n","type":"ordinal","axis":null},"text":{"field":"t"}}},
{
"width":646,"height":219,
"title":{"text":"Average LAP (-100 - 30 HU) volume across different keV levels","subtitle":"F (1.1,52.6) = 83.2 , p < 0.0001","offset":-20},
"layer":[
{"data":{"name":"pC"},"mark":{"type":"circle","size":42,"opacity":0.5},
"encoding":{"x":{"field":"c","type":"nominal","scale":{"type":"point","domain":["T3D","40","50","60","70","80","90","100","110","120","130","140","150","160","170","180"],"padding":0.62},"axis":{"title":"Energy (keV)","labelExpr":"datum.value == 'T3D' ? 'T3D' : datum.value + ' keV'"}},
"y":{"field":"v","type":"quantitative","scale":{"domain":[-22.5,361.5],"nice":false,"zero":false},"axis":{"title":"mm³","values":[0,50,100,150,200,250,300,350],"labelExpr":"datum.value % 100 == 0 ? datum.label : ''","tickOpacity":{"condition":{"test":"datum.value % 100 == 0","value":1},"value":0}}},
"color":{"field":"c","type":"nominal","legend":null,"scale":{"domain":["T3D","40","50","60","70","80","90","100","110","120","130","140","150","160","170","180"],"range":["#D32F2F","#F44336","#9C27B0","#673AB7","#3F51B5","#2196F3","#29B6F6","#0B6E6E","#009688","#43A047","#8BC34A","#FFEB3B","#FF9800","#795548","#9E9E9E","#607D8B"]}}}},
{"data":{"name":"bC"},"mark":{"type":"rule","color":"#444","strokeWidth":1.3},"encoding":{"x":{"field":"c","type":"nominal"},"y":{"field":"lo","type":"quantitative"},"y2":{"field":"q1"}}},
{"data":{"name":"bC"},"mark":{"type":"rule","color":"#444","strokeWidth":1.3},"encoding":{"x":{"field":"c","type":"nominal"},"y":{"field":"q3","type":"quantitative"},"y2":{"field":"hi"}}},
{"data":{"name":"bC"},"mark":{"type":"bar","size":12,"fillOpacity":0,"stroke":"#444","strokeWidth":1.2},"encoding":{"x":{"field":"c","type":"nominal"},"y":{"field":"q1","type":"quantitative"},"y2":{"field":"q3"}}},
{"data":{"name":"bC"},"mark":{"type":"tick","size":12,"thickness":2,"color":"#222"},"encoding":{"x":{"field":"c","type":"nominal"},"y":{"field":"med","type":"quantitative"}}},
{"data":{"name":"bC"},"transform":[{"filter":"datum.c != 'T3D'"}],"mark":{"type":"line","color":"#FF7070","strokeWidth":1},"encoding":{"x":{"field":"c","type":"nominal"},"y":{"field":"mean","type":"quantitative"},"order":{"value":null}}},
{"data":{"name":"bC"},"mark":{"type":"circle","size":28,"color":"#FF0000","opacity":1},"encoding":{"x":{"field":"c","type":"nominal"},"y":{"field":"mean","type":"quantitative"}}},
{"data":{"name":"bC"},"mark":{"type":"text","dy":-8,"fontSize":10,"color":"#111"},"encoding":{"x":{"field":"c","type":"nominal"},"y":{"field":"top","type":"quantitative"},"text":{"field":"ann"}}},
{"data":{"values":[{"lab":"C"}]},"mark":{"type":"text","align":"left","baseline":"top","fontSize":16,"fontWeight":"bold","font":"Liberation Sans","dx":-49,"dy":-19},"encoding":{"x":{"datum":"T3D"},"y":{"datum":361.5},"text":{"field":"lab"}}}
]
},
{"width":368,"height":21,"view":{"stroke":"#555","strokeWidth":1},"data":{"name":"notes"},"mark":{"type":"text","align":"left","baseline":"middle","x":3,"fontSize":7.9,"font":"DejaVu Sans","color":"#222"},"encoding":{"y":{"field":"n","type":"ordinal","axis":null},"text":{"field":"t"}}}
],
"config":{
"view":{"stroke":null},
"font":"DejaVu Sans",
"axis":{"gridColor":"#ebebeb","labelColor":"#555","labelFont":"DejaVu Sans","labelFontSize":7.8,"domain":false,"titleFont":"Liberation Sans","titleFontWeight":"bold","titleColor":"#000"},
"axisX":{"ticks":false,"labelPadding":3,"labelAngle":0,"titleFontSize":7.7,"titlePadding":0},
"axisY":{"tickSize":3,"tickColor":"#555","labelPadding":1,"labelFontSize":7.5,"titleFontSize":7.5,"titlePadding":0},
"title":{"anchor":"start","frame":"group","font":"Liberation Sans","fontSize":10.4,"fontWeight":"bold","color":"#000","subtitleFont":"Liberation Sans","subtitleFontSize":7.6,"subtitleColor":"#222","subtitlePadding":1}
}
}
